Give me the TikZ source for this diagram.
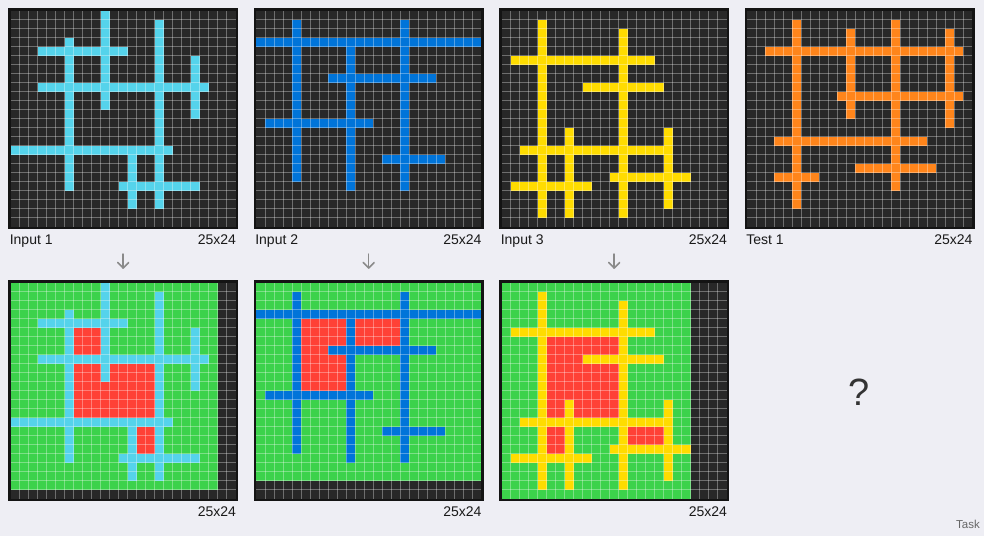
\documentclass[tikz,border=0pt]{standalone}
\usepackage{fontspec}
\setmainfont{Liberation Sans}
\definecolor{bgc}{HTML}{EEEEF4}
\definecolor{cellbg}{HTML}{282828}
\definecolor{framec}{HTML}{141414}
\definecolor{cyanc}{HTML}{55D3EB}
\definecolor{bluec}{HTML}{0074D9}
\definecolor{yellowc}{HTML}{FFDC00}
\definecolor{orangec}{HTML}{FF851B}
\definecolor{greenc}{HTML}{3CD24B}
\definecolor{redc}{HTML}{FF4136}
\definecolor{arrowc}{HTML}{8A8A8A}
\tikzset{
  gridl/.style={white, opacity=0.33, line width=0.8pt},
  framebox/.style={framec, line width=2.6pt},
  lbl/.style={inner sep=0pt, font=\fontsize{14}{16}\selectfont, text=black!90},
  downarrow/.style={arrowc, line width=1.5pt, line cap=round, line join=round},
}
\newcommand\vseg[4]{\fill[#1] (#2,#3) rectangle ({#2+1},{#4+1});}
\newcommand\hseg[4]{\fill[#1] (#3,#2) rectangle ({#4+1},{#2+1});}
\newcommand\linesA{%
  \vseg{cyanc}{10}{0}{10}\vseg{cyanc}{16}{1}{21}\vseg{cyanc}{6}{3}{19}%
  \vseg{cyanc}{20}{5}{11}\vseg{cyanc}{13}{15}{21}%
  \hseg{cyanc}{4}{3}{12}\hseg{cyanc}{8}{3}{21}\hseg{cyanc}{15}{0}{17}\hseg{cyanc}{19}{12}{20}}
\newcommand\linesB{%
  \vseg{bluec}{4}{1}{18}\vseg{bluec}{16}{1}{19}\vseg{bluec}{10}{3}{19}%
  \hseg{bluec}{3}{0}{24}\hseg{bluec}{7}{8}{19}\hseg{bluec}{12}{1}{12}\hseg{bluec}{16}{14}{20}}
\newcommand\linesC{%
  \vseg{yellowc}{4}{1}{22}\vseg{yellowc}{13}{2}{22}\vseg{yellowc}{7}{13}{22}\vseg{yellowc}{18}{13}{21}%
  \hseg{yellowc}{5}{1}{16}\hseg{yellowc}{8}{9}{17}\hseg{yellowc}{15}{2}{18}%
  \hseg{yellowc}{18}{12}{20}\hseg{yellowc}{19}{1}{9}}
\newcommand\linesD{%
  \vseg{orangec}{5}{1}{21}\vseg{orangec}{11}{2}{11}\vseg{orangec}{16}{1}{19}\vseg{orangec}{22}{2}{12}%
  \hseg{orangec}{4}{2}{23}\hseg{orangec}{9}{10}{23}\hseg{orangec}{14}{3}{19}%
  \hseg{orangec}{17}{12}{20}\hseg{orangec}{18}{3}{7}}
\newcommand\panel[3]{%
  \begin{scope}[shift={(#1,#2)}]
  \begin{scope}[x=9pt,y=-9pt]
    \fill[cellbg] (0,0) rectangle (25,24);
    #3
    \foreach \i in {1,...,24} \draw[gridl] (\i,0) -- (\i,24);
    \foreach \j in {1,...,23} \draw[gridl] (0,\j) -- (25,\j);
    \draw[framebox] ({-1.3/9},{-1.3/9}) rectangle ({25+1.3/9},{24+1.3/9});
  \end{scope}
  \end{scope}}
\begin{document}
\begin{tikzpicture}[x=1pt,y=-1pt]
  \fill[bgc] (0,0) rectangle (984,536);
  \useasboundingbox (0,0) rectangle (984,536);
  % top row
  \panel{10.7}{10.7}{\linesA}
  \panel{256.2}{10.7}{\linesB}
  \panel{501.7}{10.7}{\linesC}
  \panel{747.2}{10.7}{\linesD}
  % bottom row
  \panel{10.7}{282.7}{%
    \fill[greenc] (0,0) rectangle (23,23);
    \fill[redc] (7,5) rectangle (10,8);
    \fill[redc] (7,9) rectangle (16,15);
    \fill[redc] (14,16) rectangle (16,19);
    \linesA}
  \panel{256.2}{282.7}{%
    \fill[greenc] (0,0) rectangle (25,22);
    \fill[redc] (5,4) rectangle (10,12);
    \fill[redc] (11,4) rectangle (16,7);
    \linesB}
  \panel{501.7}{282.7}{%
    \fill[greenc] (0,0) rectangle (21,24);
    \fill[redc] (5,6) rectangle (13,15);
    \fill[redc] (5,16) rectangle (7,19);
    \fill[redc] (14,16) rectangle (18,18);
    \linesC}
  % labels
  \node[lbl, anchor=base west] (in1) at (9.6,244.7) {Input 1};
  \node[lbl, anchor=base east] (sz1) at (236.2,244.7) {25x24};
  \node[lbl, anchor=base west] (in2) at (255.1,244.7) {Input 2};
  \node[lbl, anchor=base east] (sz2) at (481.7,244.7) {25x24};
  \node[lbl, anchor=base west] (in3) at (500.6,244.7) {Input 3};
  \node[lbl, anchor=base east] (sz3) at (727.2,244.7) {25x24};
  \node[lbl, anchor=base west] (te1) at (746.1,244.7) {Test 1};
  \node[lbl, anchor=base east] (sz4) at (972.7,244.7) {25x24};
  \node[lbl, anchor=base east] (osz1) at (236.2,516.7) {25x24};
  \node[lbl, anchor=base east] (osz2) at (481.7,516.7) {25x24};
  \node[lbl, anchor=base east] (osz3) at (727.2,516.7) {25x24};
  % arrows
  \foreach \k/\xx in {1/123.2, 2/368.7, 3/614.2} {
    \coordinate (as\k) at (\xx,254);
    \coordinate (ae\k) at (\xx,268);
    \draw[downarrow] (as\k) -- (ae\k);
    \draw[downarrow] ([xshift=-5.5pt,yshift=5.5pt]ae\k) -- (ae\k) -- ([xshift=5.5pt,yshift=5.5pt]ae\k);
  }
  \node[inner sep=0pt, anchor=base, text=black!80, font=\fontsize{38}{40}\selectfont] (q) at (859.5,405.5) {?};
  \node[inner sep=0pt, anchor=base east, text=black!60, font=\fontsize{11.5}{13}\selectfont] (task) at (980,528.3) {Task};
\end{tikzpicture}
\end{document}
